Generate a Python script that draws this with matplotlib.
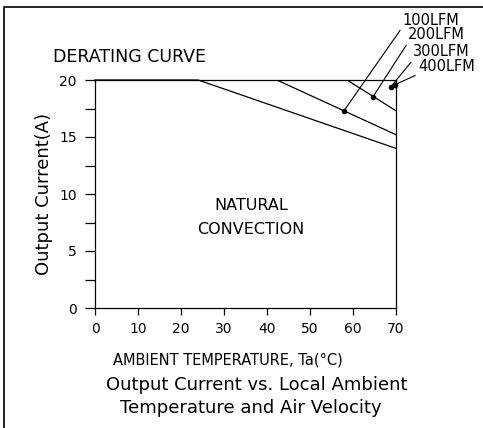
import matplotlib
matplotlib.use("Agg")
import matplotlib.pyplot as plt
from matplotlib.patches import Rectangle
from matplotlib.ticker import MultipleLocator

# derating curves (temperature degC, output current A)
nc_temp = [0, 24, 70]
nc_curr = [20, 20, 14.0]
lfm100_temp = [42.3, 70]
lfm100_curr = [20, 15.2]
lfm200_temp = [58.6, 70]
lfm200_curr = [20, 17.3]

# leader points for the air-velocity labels
lfm_labels = ['100LFM', '200LFM', '300LFM', '400LFM']
lfm_pt_temp = [57.9, 64.6, 68.8, 69.8]
lfm_pt_curr = [17.3, 18.5, 19.4, 19.6]

xticks = [0, 10, 20, 30, 40, 50, 60, 70]
yticks = [0, 5, 10, 15, 20]

plt.rcParams['font.family'] = ['DejaVu Sans']

fig = plt.figure(figsize=(4.83, 4.28), dpi=100)
ax = fig.add_axes([95/483, 1-308/428, 301/483, 228/428])

lw = 0.9
ax.plot(nc_temp, nc_curr, color='black', lw=lw, clip_on=False)
ax.plot(lfm100_temp, lfm100_curr, color='black', lw=lw)
ax.plot(lfm200_temp, lfm200_curr, color='black', lw=lw)
ax.plot(lfm_pt_temp, lfm_pt_curr, 'o', color='black', ms=3, clip_on=False)

# label positions (lower-left corner of each label, in data units)
lab_x = [71.4, 72.8, 74.0, 75.1]
lab_y = [24.6, 23.3, 21.8, 20.5]
for name, px, py, tx, ty in zip(lfm_labels, lfm_pt_temp, lfm_pt_curr, lab_x, lab_y):
    ax.annotate(name, xy=(px, py), xytext=(tx, ty), textcoords='data',
                ha='left', va='bottom', fontsize=10.5, annotation_clip=False,
                arrowprops=dict(arrowstyle='-', lw=0.8, color='black',
                                shrinkA=0, shrinkB=0, relpos=(0, 0)))

ax.set_xlim(0, 70)
ax.set_ylim(0, 20)
ax.set_xticks(xticks)
ax.set_yticks(yticks)
ax.yaxis.set_minor_locator(MultipleLocator(2.5))
ax.tick_params(axis='y', which='both', direction='out', length=7, width=0.9, pad=6, labelsize=10)
ax.tick_params(axis='x', direction='out', length=5, width=0.9, pad=5, labelsize=10)
for s in ax.spines.values():
    s.set_linewidth(lw)

ax.set_ylabel('Output Current(A)', fontsize=13)
ax.yaxis.set_label_coords(-0.14, 0.5)

fig.text(53/483, 1-57/428, 'DERATING CURVE', fontsize=12.5, ha='left', va='center')
ax.text(36.3, 9.0, 'NATURAL', ha='center', va='center', fontsize=11.5)
ax.text(36.3, 6.85, 'CONVECTION', ha='center', va='center', fontsize=11.5)

fig.text(228/483, 1-360/428, 'AMBIENT TEMPERATURE, Ta(°C)', ha='center', va='center', fontsize=10.5)
fig.text(257/483, 1-385/428, 'Output Current vs. Local Ambient', ha='center', va='center', fontsize=13)
fig.text(251/483, 1-408/428, 'Temperature and Air Velocity', ha='center', va='center', fontsize=13)

fig.patches.append(Rectangle((4/483, -0.1), 1.2, 1.1 - 7/428, transform=fig.transFigure,
                             fill=False, lw=1.2, edgecolor='black'))

fig.savefig('out.png', dpi=100)
